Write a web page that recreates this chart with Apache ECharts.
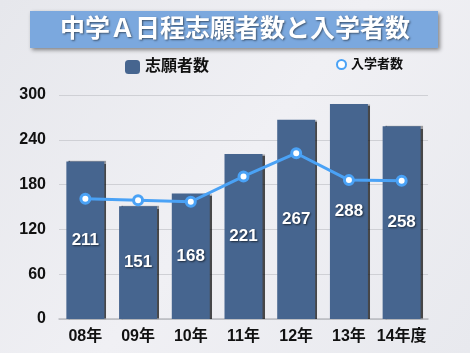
<!DOCTYPE html>
<html lang="ja">
<head>
    <meta charset="UTF-8">
    <title>中学Ａ日程志願者数と入学者数</title>
    <script src="https://fastly.jsdelivr.net/npm/echarts@6/dist/echarts.min.js"></script>
    <style>
        html, body { margin: 0; padding: 0; }
    </style>
</head>
<body>
    <div id="dv" style="width:470px;height:353px;"></div>
</body>
<script>
   var years = ['08年', '09年', '10年', '11年', '12年', '13年', '14年度']
   var applicants = [211, 151, 168, 221, 267, 288, 258]
   var enrolled = [161, 159, 157, 191, 222, 186, 185]
   var yTicks = [0, 60, 120, 180, 240, 300]

   var font = '"Liberation Sans", "Noto Sans CJK JP", sans-serif'
   var myChart = echarts.init(document.getElementById('dv'))
   var option = {
        backgroundColor: {
            type: 'linear', x: 0, y: 0, x2: 1, y2: 1,
            colorStops: [{offset: 0, color: '#e6e7ec'}, {offset: 0.5, color: '#f0f0f4'}, {offset: 1, color: '#e8e9ee'}]
        },
        textStyle: { fontFamily: font },
        graphic: [{
            type: 'rect',
            shape: { x: 30, y: 11, width: 408, height: 37 },
            style: {
                fill: '#7ba8de',
                shadowBlur: 4, shadowOffsetX: 2, shadowOffsetY: 2,
                shadowColor: 'rgba(0,0,0,0.45)'
            }
        }, {
            type: 'text',
            x: 235, y: 30,
            style: {
                text: '中学Ａ日程志願者数と入学者数',
                fill: '#fff',
                align: 'center', verticalAlign: 'middle',
                font: 'bold 25px ' + font,
                textShadowBlur: 2, textShadowOffsetX: 1, textShadowOffsetY: 1,
                textShadowColor: 'rgba(0,0,0,0.5)'
            }
        }],
        legend: [{
            data: ['志願者数'],
            left: 120, top: 54,
            itemWidth: 15, itemHeight: 14, itemGap: 12,
            textStyle: { fontSize: 16, fontWeight: 'bold', color: '#111', fontFamily: font }
        }, {
            data: [{ name: '入学者数', icon: 'circle' }],
            left: 331, top: 53,
            itemWidth: 9, itemHeight: 9, itemGap: 11,
            textStyle: { fontSize: 13, fontWeight: 'bold', color: '#111', fontFamily: font }
        }],
        grid: { left: 59, right: 42, top: 95, bottom: 34 },
        xAxis: {
            type: 'category',
            data: years,
            axisTick: { show: false },
            axisLine: { lineStyle: { color: '#b9bac0', width: 1.5 } },
            axisLabel: { interval: 0, color: '#111', fontSize: 16, fontWeight: 'bold', margin: 10, fontFamily: font }
        },
        yAxis: {
            type: 'value',
            min: yTicks[0], max: yTicks[yTicks.length - 1], interval: 60,
            axisLabel: { color: '#111', fontSize: 16, fontWeight: 'bold', margin: 13, fontFamily: font },
            splitLine: { lineStyle: { color: '#cfd0d5', width: 1 } },
            axisLine: { show: false },
            axisTick: { show: false }
        },
        series: [{
            name: '志願者数',
            type: 'bar',
            barWidth: 38,
            itemStyle: {
                color: '#46658f',
                shadowColor: 'rgba(0,0,0,0.7)', shadowOffsetX: 2, shadowOffsetY: 0, shadowBlur: 1
            },
            label: {
                show: true, position: 'inside',
                color: '#fff', fontSize: 17, fontWeight: 'bold', fontFamily: font,
                textShadowColor: 'rgba(0,0,0,0.6)', textShadowBlur: 2, textShadowOffsetX: 1, textShadowOffsetY: 1
            },
            data: applicants
        }, {
            name: '入学者数',
            type: 'line',
            symbol: 'circle',
            symbolSize: 9,
            lineStyle: { color: '#4aa2f6', width: 3 },
            itemStyle: { color: '#fff', borderColor: '#4aa2f6', borderWidth: 3 },
            data: enrolled
        }]
   }
   myChart.setOption(option)
</script>
</html>
